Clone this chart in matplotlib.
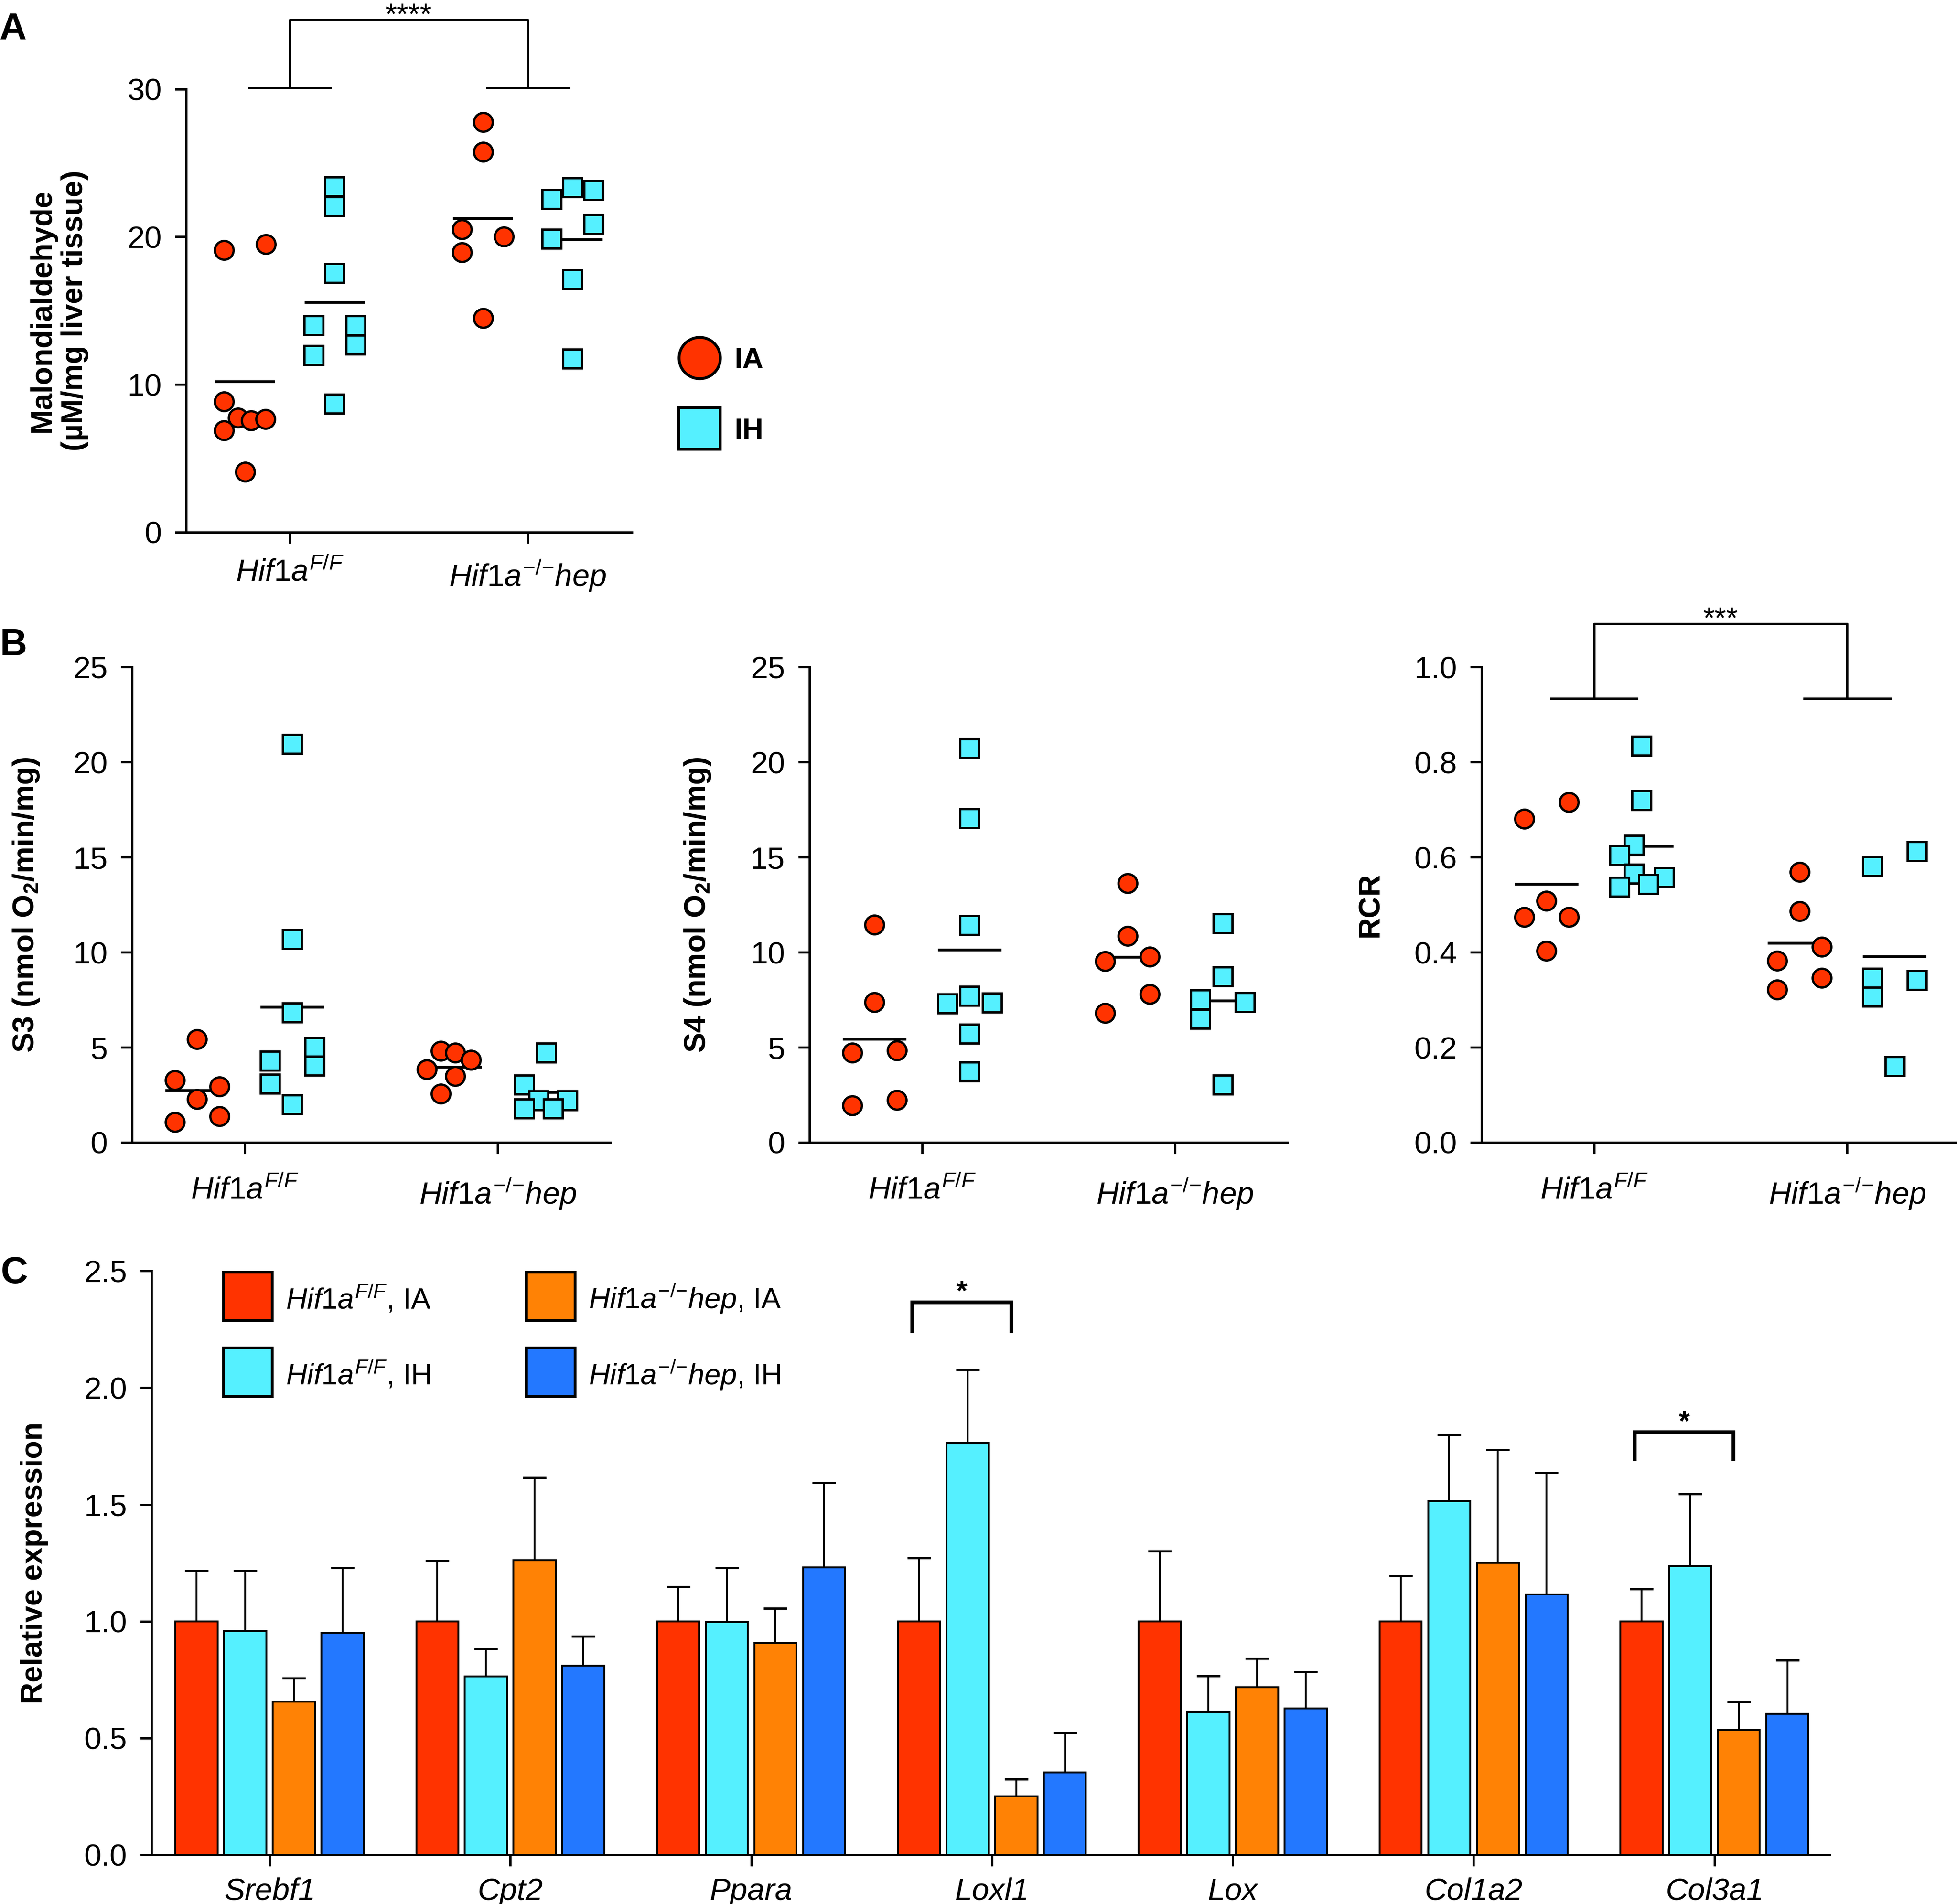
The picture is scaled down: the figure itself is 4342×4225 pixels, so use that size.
import numpy as np
import matplotlib
matplotlib.use('Agg')
import matplotlib.pyplot as plt
from matplotlib.lines import Line2D
from matplotlib.patches import Rectangle
from matplotlib.ticker import FormatStrFormatter

plt.rcParams['font.family'] = ['Liberation Sans', 'DejaVu Sans']
plt.rcParams['mathtext.fontset'] = 'custom'
plt.rcParams['mathtext.rm'] = 'Liberation Sans'
plt.rcParams['mathtext.it'] = 'Liberation Sans:italic'
plt.rcParams['mathtext.bf'] = 'Liberation Sans:bold'
plt.rcParams['axes.linewidth'] = 1.2

RED = '#ff3300'
CYAN = '#55f0ff'
ORANGE = '#ff8205'
BLUE = '#2378ff'

genotypes = [r'$\mathit{Hif1a}^{\mathit{F/F}}$', r'$\mathit{Hif1a}^{\mathit{{-}/{-}}}\mathit{hep}$']

# panel A - malondialdehyde (uM/mg liver tissue)
mda_ff_ia = [19.1, 19.5, 8.85, 7.75, 7.55, 7.65, 6.9, 4.1]
mda_ff_ih = [23.4, 22.05, 17.55, 14.0, 14.0, 12.7, 12.0, 8.7]
mda_ko_ia = [27.75, 25.75, 20.5, 20.0, 18.95, 14.5]
mda_ko_ih = [23.35, 23.15, 22.55, 20.85, 19.85, 17.1, 11.75]

# panel B - S3, S4, RCR
s3_ff_ia = [5.43, 3.26, 2.95, 2.27, 1.37, 1.07]
s3_ff_ih = [20.96, 10.68, 6.82, 5.0, 4.02, 4.3, 3.09, 1.99]
s3_ko_ia = [4.8, 4.71, 4.34, 3.85, 3.48, 2.56]
s3_ko_ih = [4.71, 3.03, 2.21, 2.21, 1.78, 1.78]

s4_ff_ia = [11.45, 7.36, 4.84, 4.71, 2.23, 1.95]
s4_ff_ih = [20.7, 17.05, 11.43, 7.7, 7.3, 7.34, 5.7, 3.73]
s4_ko_ia = [13.63, 10.86, 9.77, 9.53, 7.79, 6.8]
s4_ko_ih = [11.52, 8.71, 7.52, 7.38, 6.5, 3.03]

rcr_ff_ia = [0.716, 0.681, 0.508, 0.474, 0.474, 0.403]
rcr_ff_ih = [0.834, 0.719, 0.626, 0.604, 0.565, 0.557, 0.543, 0.537]
rcr_ko_ia = [0.569, 0.486, 0.411, 0.382, 0.346, 0.321]
rcr_ko_ih = [0.612, 0.581, 0.341, 0.346, 0.306, 0.16]

# scatter columns (jitter slots, half-marker units), same order as the values
mda_cols = [[-2, 2, -2, -0.7, 0.55, 1.95, -2, 0], [0, 0, 0, -2, 2, 2, -2, 0],
            [0, 0, -2, 2, -2, 0], [0, 2, -2, 2, -2, 0, 0]]
s3_cols = [[0, -2, 2, 0, 2, -2], [0, 0, 0, 2, 2, -2, -2, 0],
           [-0.85, 0.45, 1.85, -2.1, 0.45, -0.85], [0.1, -1.9, -0.6, 2.0, -1.9, 0.7]]
s4_cols = [[0, 0, 2, -2, 2, -2], [0, 0, 0, 0, -2, 2, 0, 0],
           [0, 0, 2, -2, 2, -2], [0, 0, -2, 2, -2, 0]]
rcr_cols = [[2, -2, 0, -2, 2, 0], [0, 0, -0.7, -2, -0.7, 2, 0.6, -2],
            [0, 0, 2, -2, 2, -2], [2, -2, 2, -2, -2, 0]]

# panel C - relative expression (mean and SEM)
genes = ['Srebf1', 'Cpt2', 'Ppara', 'Loxl1', 'Lox', 'Col1a2', 'Col3a1']
ff_ia_mean = [1.0, 1.0, 1.0, 1.0, 1.0, 1.0, 1.0]
ff_ia_sem = [0.216, 0.26, 0.147, 0.271, 0.3, 0.194, 0.138]
ff_ih_mean = [0.959, 0.764, 0.997, 1.763, 0.611, 1.515, 1.236]
ff_ih_sem = [0.257, 0.117, 0.232, 0.314, 0.155, 0.283, 0.309]
ko_ia_mean = [0.656, 1.262, 0.906, 0.25, 0.717, 1.251, 0.534]
ko_ia_sem = [0.101, 0.352, 0.15, 0.075, 0.125, 0.483, 0.121]
ko_ih_mean = [0.952, 0.811, 1.231, 0.354, 0.627, 1.116, 0.604]
ko_ih_sem = [0.277, 0.124, 0.363, 0.169, 0.157, 0.52, 0.229]
c_labels = [r'$\mathit{Hif1a}^{\mathit{F/F}}$, IA', r'$\mathit{Hif1a}^{\mathit{F/F}}$, IH',
            r'$\mathit{Hif1a}^{\mathit{{-}/{-}}}\mathit{hep}$, IA', r'$\mathit{Hif1a}^{\mathit{{-}/{-}}}\mathit{hep}$, IH']

OFF = 0.188
STEP = 0.044


def style_axis(ax, tick_size, xpad):
    ax.spines['top'].set_visible(False)
    ax.spines['right'].set_visible(False)
    ax.tick_params(axis='both', direction='out', length=6, width=1.2, labelsize=tick_size, pad=7)
    ax.tick_params(axis='x', pad=xpad)


def dot_panel(ax, data, cols):
    for gi in range(2):
        sets = ((data[2 * gi], cols[2 * gi], -OFF, 'o', RED),
                (data[2 * gi + 1], cols[2 * gi + 1], OFF, 's', CYAN))
        for vals, cc, off, mk, colr in sets:
            xc = gi + off
            ax.plot(xc + np.array(cc) * STEP, vals, ls='none', marker=mk, ms=10, mfc=colr,
                    mec='black', mew=1.2, zorder=3, clip_on=False)
            m = np.mean(vals)
            ax.plot([xc - 0.12, xc + 0.12], [m, m], color='black', lw=1.5, zorder=2)
    ax.set_xticks([0, 1])
    ax.set_xticklabels(genotypes, fontsize=18.5)


def bracket(ax, y_foot, y_top, y_text, label):
    for g in (0, 1):
        ax.plot([g - 0.17, g + 0.17], [y_foot, y_foot], color='black', lw=1.2, clip_on=False)
    ax.plot([0, 0, 1, 1], [y_foot, y_top, y_top, y_foot], color='black', lw=1.2, clip_on=False)
    ax.text(0.5, y_text, label, ha='center', va='baseline', fontsize=16, clip_on=False)


fig = plt.figure(figsize=(4342 / 300, 4225 / 300), dpi=300)

# ---------------- A ----------------
ax_a = fig.add_axes([0.0951, 0.7205, 0.2278, 0.2327])
dot_panel(ax_a, [mda_ff_ia, mda_ff_ih, mda_ko_ia, mda_ko_ih], mda_cols)
ax_a.set_xlim(-0.436, 1.4375)
ax_a.set_ylim(0, 30)
ax_a.set_yticks([0, 10, 20, 30])
style_axis(ax_a, 16.5, 8)
ax_a.set_ylabel('Malondialdehyde\n(µM/mg liver tissue)', fontsize=16, fontweight='bold', va='center')
ax_a.yaxis.set_label_coords(-0.286, 0.5)
bracket(ax_a, 30.09, 34.7, 34.4, '****')
handles = [Line2D([], [], ls='none', marker='o', ms=22, mfc=RED, mec='black', mew=1.5),
           Line2D([], [], ls='none', marker='s', ms=22, mfc=CYAN, mec='black', mew=1.5)]
ax_a.legend(handles, ['IA', 'IH'], loc='center left', bbox_to_anchor=(0.3462, 0.7921),
            bbox_transform=fig.transFigure, frameon=False, prop={'weight': 'bold', 'size': 15.5},
            handlelength=1.5, handletextpad=0.45, labelspacing=1.5, borderpad=0, borderaxespad=0)

# ---------------- B ----------------
b_lefts = [0.0675, 0.4136, 0.757]
b_data = [[s3_ff_ia, s3_ff_ih, s3_ko_ia, s3_ko_ih],
          [s4_ff_ia, s4_ff_ih, s4_ko_ia, s4_ko_ih],
          [rcr_ff_ia, rcr_ff_ih, rcr_ko_ia, rcr_ko_ih]]
b_cols = [s3_cols, s4_cols, rcr_cols]
b_labels = [r'S3 (nmol O$_{\mathbf{2}}$/min/mg)', r'S4 (nmol O$_{\mathbf{2}}$/min/mg)', 'RCR']
b_label_x = [-0.2215, -0.234, -0.232]
for k in range(3):
    ax = fig.add_axes([b_lefts[k], 0.40, 0.2444, 0.2497])
    dot_panel(ax, b_data[k], b_cols[k])
    ax.set_xlim(-0.445, 1.445)
    style_axis(ax, 16.5, 12)
    if k < 2:
        ax.set_ylim(0, 25)
        ax.set_yticks([0, 5, 10, 15, 20, 25])
    else:
        ax.set_ylim(0, 1.0)
        ax.set_yticks([0, 0.2, 0.4, 0.6, 0.8, 1.0])
        ax.yaxis.set_major_formatter(FormatStrFormatter('%.1f'))
        bracket(ax, 0.934, 1.091, 1.082, '***')
    ax.set_ylabel(b_labels[k], fontsize=16, fontweight='bold', va='center')
    ax.yaxis.set_label_coords(b_label_x[k], 0.5)

# ---------------- C ----------------
ax_c = fig.add_axes([0.0774, 0.0258, 0.8577, 0.3067])
x = np.arange(len(genes))
width = 0.175
series = [(ff_ia_mean, ff_ia_sem, RED), (ff_ih_mean, ff_ih_sem, CYAN),
          (ko_ia_mean, ko_ia_sem, ORANGE), (ko_ih_mean, ko_ih_sem, BLUE)]
for k, (mean, sem, colr) in enumerate(series):
    pos = x + (k - 1.5) * 0.202
    ax_c.bar(pos, mean, width, color=colr, edgecolor='black', linewidth=1.0, zorder=2,
             yerr=[np.zeros(len(sem)), sem], capsize=6.3,
             error_kw=dict(elinewidth=1.0, capthick=1.2, ecolor='black', zorder=1))
ax_c.set_xlim(-0.49, 6.48)
ax_c.set_ylim(0, 2.5)
ax_c.set_yticks(np.arange(0, 2.51, 0.5))
ax_c.yaxis.set_major_formatter(FormatStrFormatter('%.1f'))
ax_c.set_xticks(x)
ax_c.set_xticklabels(genes, fontstyle='italic', fontsize=17)
style_axis(ax_c, 16.5, 6)
ax_c.set_ylabel('Relative expression', fontsize=16, fontweight='bold', va='center')
ax_c.yaxis.set_label_coords(-0.0698, 0.5)

# significance brackets in C
for gi, y_top, y_foot in ((3, 2.365, 2.242), (6, 1.809, 1.694)):
    ax_c.plot([gi - 0.33, gi - 0.33, gi + 0.08, gi + 0.08], [y_foot, y_top, y_top, y_foot],
              color='black', lw=2.0, solid_joinstyle='miter', clip_on=False)
    ax_c.text(gi - 0.125, y_top + 0.01, '*', ha='center', va='baseline', fontsize=15, fontweight='bold')

# legend in C
patch_x = [0.043, 0.043, 0.2234, 0.2234]
patch_y = [0.915, 0.785, 0.915, 0.785]
for k, (mean, sem, colr) in enumerate(series):
    ax_c.add_patch(Rectangle((patch_x[k], patch_y[k]), 0.029, 0.083, transform=ax_c.transAxes,
                             facecolor=colr, edgecolor='black', linewidth=1.5, clip_on=False))
    ax_c.text(patch_x[k] + 0.037, patch_y[k] + 0.02, c_labels[k], transform=ax_c.transAxes,
              fontsize=15.5, va='baseline', ha='left')

# panel letters
fig.text(0.0067, 0.9846, 'A', fontsize=20, fontweight='bold', ha='center', va='center')
fig.text(0.0067, 0.661, 'B', fontsize=20, fontweight='bold', ha='center', va='center')
fig.text(0.0074, 0.3314, 'C', fontsize=20, fontweight='bold', ha='center', va='center')

fig.savefig('out.png', dpi=300)
